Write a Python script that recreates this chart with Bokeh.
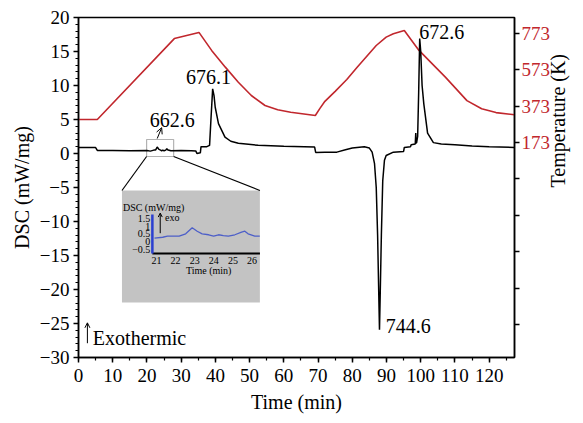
import math
from bokeh.plotting import figure
from bokeh.models import (Range1d, LinearAxis, FixedTicker, SingleIntervalTicker,
                          Arrow, OpenHead, BoxAnnotation, Label)
from bokeh.embed import file_html
from bokeh.resources import INLINE

FONT = "Liberation Serif"
RED = "#c1272d"

# ---------------- data ----------------
time_dsc = [0, 5.0, 5.5, 10, 15, 20, 21, 22, 22.5, 23, 23.5, 24, 24.3, 24.6, 25, 25.5, 25.8,
            26.2, 27, 30, 33, 34.3, 34.6, 35.6, 35.8, 37.5, 38.3, 38.7, 39.2, 39.6, 39.95,
            40.9, 42.8, 44.5, 46.7, 52.5, 60, 69.0, 69.3, 72, 75.5, 78, 80, 83.5, 85, 85.8,
            86.5, 87.0, 87.4, 87.75, 87.95, 88.15, 88.5, 88.9, 89.4, 89.9, 92, 95.0, 95.2,
            97.0, 97.2, 98.4, 98.55, 98.65, 98.8, 99.1, 99.4, 99.7, 100.0, 100.4, 100.9,
            102.0, 103.7, 106, 110, 115, 120, 127.4]
dsc = [0.88, 0.88, 0.45, 0.45, 0.4, 0.45, 0.35, 0.5, 0.5, 0.95, 0.6, 0.5, 0.4, 0.5, 0.4, 0.5, 0.7,
       0.5, 0.4, 0.45, 0.4, 0.35, 0.0, 0.1, 1.0, 1.0, 1.2, 5.0, 9.5, 8.5, 6.8,
       4.4, 2.4, 1.8, 1.5, 1.2, 1.05, 0.95, 0.15, 0.2, 0.2, 0.55, 0.8, 1.0, 0.8, 0.2,
       -1.5, -5, -12, -21, -25.9, -21, -12, -4, -1.0, -0.3, 0.2, 0.3, 0.9,
       1.0, 1.3, 1.4, 3.0, 1.5, 1.6, 2.5, 9.0, 16.9, 15.0, 10.0, 7.3,
       3.0, 1.6, 1.4, 1.3, 1.1, 1.0, 0.9]

time_temp = [0, 5.5, 28.0, 35.2, 38.9, 42.9, 46.7, 50.5, 54.5, 58.2, 62.0, 69.2,
             70.5, 72.0, 75.0, 78.4, 81.3, 87.0, 89.9, 92.0, 95.2, 99.5, 107.2, 113.5,
             117.8, 122.0, 127.4]
temp = [300, 300, 745, 779, 680, 588, 505, 432, 377, 354, 340, 322,
        360, 400, 455, 520, 585, 707, 753, 772, 790, 680, 533, 404,
        359, 338, 326]

inset_time = [20.9, 21.33, 21.58, 22.19, 22.53, 22.87, 23.13, 23.39, 23.73, 23.99, 24.25,
              24.5, 24.76, 25.1, 25.45, 25.62, 25.79, 26.14, 26.4]
inset_dsc = [0.23, 0.29, 0.36, 0.36, 0.51, 0.9, 0.68, 0.51, 0.45, 0.36, 0.45,
             0.40, 0.36, 0.45, 0.62, 0.68, 0.51, 0.36, 0.36]

x_ticks = list(range(0, 121, 10))
y_ticks = list(range(-30, 21, 5))
temp_ticks = [773, 573, 373, 173, -27, -227, -427, -627, -827]
temp_tick_labels = ["773", "573", "373", "173", "", "", "", "", ""]
inset_x_ticks = [21, 22, 23, 24, 25, 26]
inset_y_ticks = [-0.5, 0, 0.5, 1, 1.5]
inset_y_tick_labels = ["\u22120.5", "0", "0.5", "1", "1.5"]

peak_labels = ["676.1", "662.6", "672.6", "744.6"]
peak_label_x = [38.0, 27.4, 99.6, 89.8]
peak_label_y = [11.3, 4.9, 17.8, -25.3]
peak_label_align = ["center", "center", "left", "left"]

# ---------------- figure ----------------
p = figure(width=583, height=423, x_range=Range1d(0, 127.4), y_range=Range1d(-30, 20),
           output_backend="svg", toolbar_location=None,
           min_border_left=78, min_border_right=63, min_border_top=17, min_border_bottom=66)
p.xgrid.grid_line_color = None
p.ygrid.grid_line_color = None
p.outline_line_color = "black"
p.outline_line_width = 1.5
p.background_fill_color = "white"
p.border_fill_color = "white"

p.extra_y_ranges = {"temp": Range1d(-1009, 861), "iy": Range1d(-7.47, 14.47)}
p.extra_x_ranges = {"ix": Range1d(16.93, 39.71)}

def style_axis(ax):
    ax.axis_line_color = "black"
    ax.axis_line_width = 1.5
    ax.major_tick_line_width = 1.5
    ax.minor_tick_line_width = 1.2
    ax.major_tick_in = 0
    ax.major_tick_out = 5
    ax.minor_tick_in = 0
    ax.minor_tick_out = 3
    ax.major_label_text_font = FONT
    ax.major_label_text_font_size = "19px"
    ax.major_label_text_color = "black"
    ax.axis_label_text_font = FONT
    ax.axis_label_text_font_size = "20px"
    ax.axis_label_text_font_style = "normal"
    ax.axis_label_text_color = "black"

xax = p.xaxis[0]
xax.ticker = SingleIntervalTicker(interval=10, num_minor_ticks=2)
xax.axis_label = "Time (min)"
style_axis(xax)
xax.major_label_standoff = 6
xax.axis_label_standoff = 6

yax = p.yaxis[0]
yax.ticker = SingleIntervalTicker(interval=5, num_minor_ticks=5)
yax.axis_label = "DSC (mW/mg)"
style_axis(yax)
yax.major_label_overrides = {t: str(t).replace("-", "\u2212") for t in y_ticks}
yax.major_label_standoff = 4
yax.axis_label_standoff = 4

rax = LinearAxis(y_range_name="temp", ticker=FixedTicker(ticks=temp_ticks, minor_ticks=[]),
                 axis_label="Temperature (K)")
style_axis(rax)
rax.major_label_overrides = {t: l for t, l in zip(temp_ticks, temp_tick_labels)}
rax.major_label_text_color = RED
rax.major_label_standoff = 2
rax.axis_label_standoff = 5
rax.axis_label_orientation = math.pi / 2
p.add_layout(rax, "right")

# ---------------- main curves ----------------
p.line(time_temp, temp, y_range_name="temp", line_color=RED, line_width=1.6)
p.line(time_dsc, dsc, line_color="black", line_width=1.5)

for txt, lx, ly, al in zip(peak_labels, peak_label_x, peak_label_y, peak_label_align):
    p.add_layout(Label(x=lx, y=ly, text=txt, text_align=al, text_baseline="middle",
                       text_font=FONT, text_font_size="20px", text_color="black"))

p.add_layout(Arrow(end=OpenHead(size=6, line_width=1), x_start=23.0, y_start=2.2,
                   x_end=24.3, y_end=3.8, line_width=1, line_color="black"))

# Exothermic note
p.add_layout(Arrow(end=OpenHead(size=5, line_width=1), x_start=2.6, y_start=-27.9,
                   x_end=2.6, y_end=-24.9, line_width=1, line_color="black"))
p.add_layout(Label(x=4.2, y=-27.2, text="Exothermic", text_baseline="middle",
                   text_font=FONT, text_font_size="20px", text_color="black"))

# ---------------- zoom box and inset ----------------
p.add_layout(BoxAnnotation(left=19.9, right=27.8, bottom=-0.44, top=2.06,
                           fill_alpha=0, line_color="black", line_width=1.2))
p.segment(x0=[19.9, 27.8], y0=[-0.44, -0.44], x1=[12.7, 53.0], y1=[-5.44, -5.44],
          line_color="black", line_width=1.2)
p.add_layout(BoxAnnotation(left=12.7, right=53.0, bottom=-21.9, top=-5.44,
                           fill_color="#c3c3c3", fill_alpha=1, line_color=None,
                           level="underlay"))

p.line(inset_time, inset_dsc, x_range_name="ix", y_range_name="iy",
       line_color="#4d5fc8", line_width=1.3)
# inset axes
p.segment(x0=[20.79], y0=[-0.76], x1=[26.41], y1=[-0.76], x_range_name="ix",
          y_range_name="iy", line_color="black", line_width=2)
p.segment(x0=[20.79], y0=[-0.76], x1=[20.79], y1=[1.76], x_range_name="ix",
          y_range_name="iy", line_color="#2b3fd0", line_width=2.5)
p.text(x=inset_x_ticks, y=[-1.22] * len(inset_x_ticks), text=[str(t) for t in inset_x_ticks],
       x_range_name="ix", y_range_name="iy", text_align="center", text_baseline="middle",
       text_font={"value": FONT}, text_font_size="10px", text_color="black")
p.text(x=[20.68] * len(inset_y_ticks), y=inset_y_ticks, text=inset_y_tick_labels,
       x_range_name="ix", y_range_name="iy", text_align="right", text_baseline="middle",
       text_font={"value": FONT}, text_font_size="10px", text_color="black")
p.text(x=[23.73], y=[-1.85], text=["Time (min)"], x_range_name="ix", y_range_name="iy",
       text_align="center", text_baseline="middle", text_font={"value": FONT},
       text_font_size="10px", text_color="black")
p.text(x=[19.25], y=[2.2], text=["DSC (mW/mg)"], x_range_name="ix", y_range_name="iy",
       text_align="left", text_baseline="middle", text_font={"value": FONT},
       text_font_size="10px", text_color="black")
p.add_layout(Arrow(end=OpenHead(size=4, line_width=1), x_start=21.2, y_start=0.55,
                   x_end=21.2, y_end=1.85, x_range_name="ix", y_range_name="iy",
                   line_width=1, line_color="black"))
p.text(x=[21.45], y=[1.55], text=["exo"], x_range_name="ix", y_range_name="iy",
       text_align="left", text_baseline="middle", text_font={"value": FONT},
       text_font_size="10px", text_color="black")

open("out.html", "w").write(file_html(p, INLINE))
